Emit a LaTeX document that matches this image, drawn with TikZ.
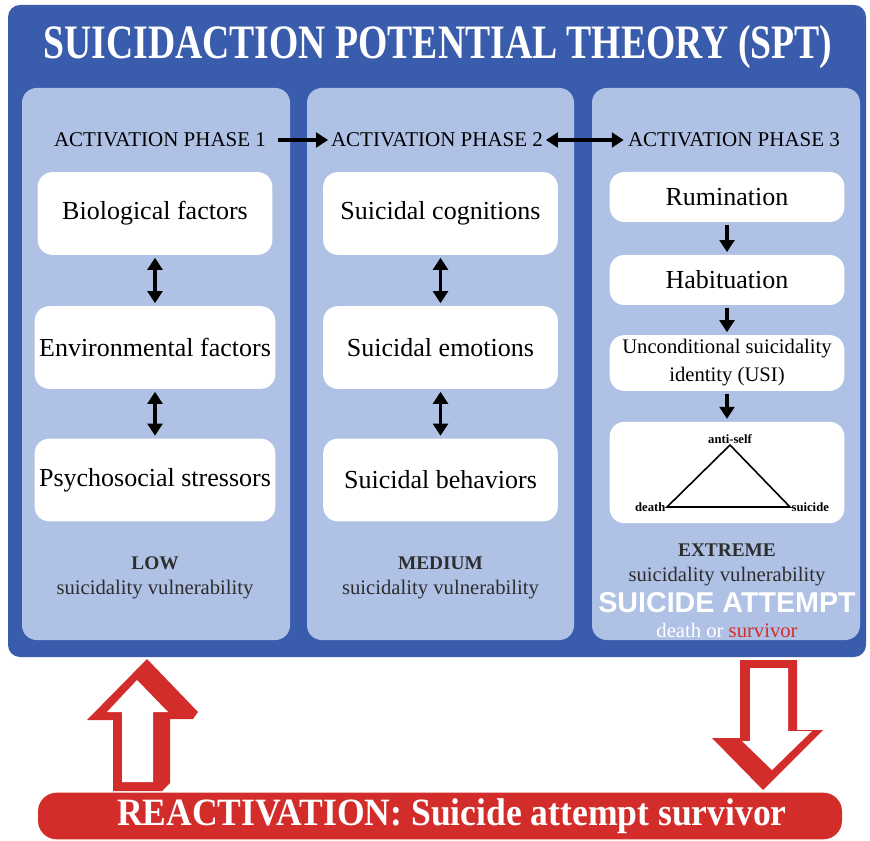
\documentclass[tikz,border=0pt]{standalone}
\usepackage{graphicx}
\usepackage{fontspec}
\setmainfont{Liberation Serif}
\setsansfont{Liberation Sans}
\usetikzlibrary{arrows.meta}
\definecolor{sptblue}{RGB}{58,92,172}
\definecolor{panelblue}{RGB}{175,193,228}
\definecolor{reactred}{RGB}{211,45,43}
\definecolor{textgray}{RGB}{45,45,45}

\begin{document}
\begin{tikzpicture}[x=0.75pt,y=-0.75pt,
  panel/.style={fill=panelblue,rounded corners=11pt},
  factor/.style={fill=white,rounded corners=11pt,minimum width=176pt,minimum height=62pt,
    align=center,font=\fontsize{19.5}{22}\selectfont},
  stage/.style={factor,minimum height=37.5pt},
  phase/.style={font=\fontsize{15.75}{17}\selectfont,inner sep=2pt},
  level/.style={font=\fontsize{14.5}{17}\selectfont\bfseries,text=textgray},
  vuln/.style={font=\fontsize{15.5}{17}\selectfont,text=textgray},
  vertex/.style={font=\fontsize{9.5}{11}\selectfont\bfseries,inner sep=1pt},
  twoway/.style={{Triangle[length=9pt,width=11pt]}-{Triangle[length=9pt,width=11pt]},
    line width=2.6pt,shorten <=2pt,shorten >=2pt},
  oneway/.style={-{Triangle[length=9pt,width=11pt]},line width=2.6pt,shorten <=2pt,shorten >=2pt}]
\useasboundingbox (0,0) rectangle (870,841);

% Outer frame and title
\fill[sptblue,rounded corners=9pt] (8,5) rectangle (866,657);
\node[text=white,font=\fontsize{36}{38}\selectfont\bfseries] (title) at (438,47)
  {\scalebox{0.785}[1]{SUICIDACTION POTENTIAL THEORY (SPT)}};

% The three phases
\fill[panel] (22,88) rectangle (290,640);
\fill[panel] (307,88) rectangle (574,640);
\fill[panel] (592,88) rectangle (860,640);

\node[phase] (ph1) at (160,140) {ACTIVATION PHASE 1};
\node[phase] (ph2) at (437,140) {ACTIVATION PHASE 2};
\node[phase] (ph3) at (734,140) {ACTIVATION PHASE 3};
\draw[oneway,shorten <=7pt,shorten >=0pt] (ph1) -- (ph2);
\draw[twoway,shorten <=0pt,shorten >=1pt] (ph2) -- (ph3);

% Phase 1
\node[factor] (bio) at (155,213.5) {Biological factors};
\node[factor] (env) at (155,347.5) {Environmental factors};
\node[factor] (psy) at (155,480) {Psychosocial stressors};
\draw[twoway] (bio) -- (env);
\draw[twoway] (env) -- (psy);
\node[level] (low) at (155,563) {LOW};
\node[vuln] (vul1) at (155,590) {suicidality vulnerability};

% Phase 2
\node[factor] (cog) at (440.5,213.5) {Suicidal cognitions};
\node[factor] (emo) at (440.5,347.5) {Suicidal emotions};
\node[factor] (beh) at (440.5,480) {Suicidal behaviors};
\draw[twoway] (cog) -- (emo);
\draw[twoway] (emo) -- (beh);
\node[level] (medium) at (440.5,563) {MEDIUM};
\node[vuln] (vul2) at (440.5,590) {suicidality vulnerability};

% Phase 3
\node[stage] (rum) at (727,197) {Rumination};
\node[stage] (hab) at (727,280) {Habituation};
\node[stage,font=\fontsize{15.5}{21}\selectfont] (usi) at (727,363)
  {Unconditional suicidality\\identity (USI)};
\node[factor,minimum height=76pt] (tribox) at (727,472.5) {};
\draw[oneway] (rum) -- (hab);
\draw[oneway] (hab) -- (usi);
\draw[oneway] (usi) -- (tribox);

% Triangle inside the last box
\coordinate (apex) at (730,445);
\coordinate (dth) at (667,507);
\coordinate (sui) at (790,507);
\draw[line width=1.2pt] (apex) -- (dth) -- (sui) -- cycle;
\node[vertex,above] (antiself) at (apex) {anti-self};
\node[vertex,left] (death) at (dth) {death};
\node[vertex,right] (suicide) at (sui) {suicide};

\node[level] (extreme) at (727,550) {EXTREME};
\node[vuln] (vul3) at (727,577) {suicidality vulnerability};
\node[text=white,font=\sffamily\fontsize{21.5}{23}\selectfont\bfseries] (attempt) at (727,603)
  {SUICIDE ATTEMPT};
\node[text=white,font=\fontsize{15.5}{17}\selectfont] (outcome) at (727,630)
  {death or \textcolor{reactred}{survivor}};

% Red block arrows
\fill[reactred] (147,659) -- (198,712) -- (193,719) -- (170,719) -- (170,783)
  -- (162,791) -- (113,791) -- (113,720) -- (87,720) -- cycle;
\fill[white] (137,680) -- (168,712) -- (153,712) -- (153,782) -- (122,782)
  -- (122,712) -- (107,712) -- cycle;
\fill[reactred] (740,660) -- (797,660) -- (797,730) -- (823,730) -- (763,790)
  -- (712,738) -- (740,738) -- cycle;
\fill[white] (750,668) -- (788,668) -- (788,731) -- (812,731) -- (772,770)
  -- (742,741) -- (750,741) -- cycle;

% Reactivation banner
\node[fill=reactred,rounded corners=14pt,minimum width=603pt,minimum height=35pt] (react) at (440,816) {};
\node[text=white,font=\fontsize{29}{30}\selectfont\bfseries] (reacttext) at (452,816)
  {\scalebox{0.92}[1]{REACTIVATION: Suicide attempt survivor}};

\end{tikzpicture}
\end{document}
